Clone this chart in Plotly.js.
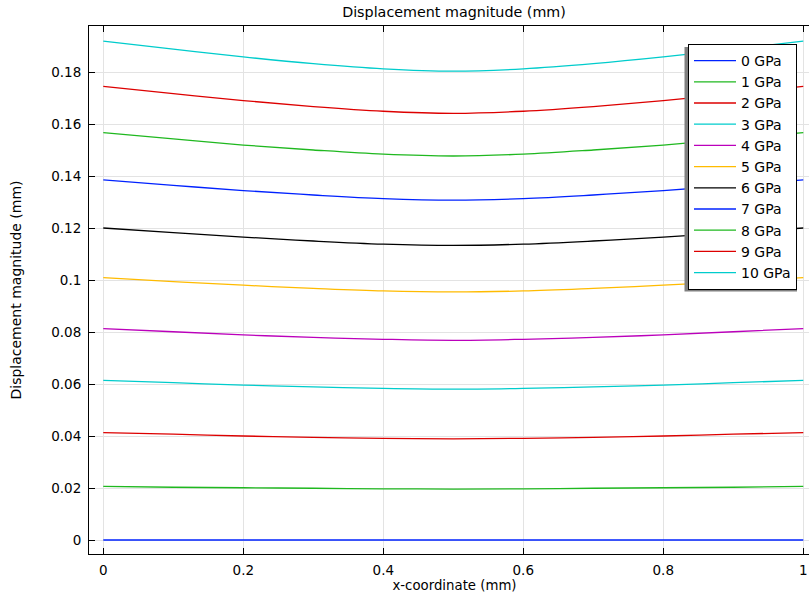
<!DOCTYPE html>
<html>
<head>
<meta charset="utf-8">
<script src="https://cdn.plot.ly/plotly-3.0.1.min.js"></script>
<style>
html,body{margin:0;padding:0;overflow:hidden;background:#fff;}
#chart{width:830px;height:596px;}
</style>
</head>
<body>
<div id="chart"></div>
<script>
// x-coordinate (mm)
var xCoord = [0, 0.1, 0.2, 0.3, 0.4, 0.5, 0.6, 0.7, 0.8, 0.9, 1.0];

// Series labels
var seriesNames = ["0 GPa","1 GPa","2 GPa","3 GPa","4 GPa","5 GPa","6 GPa","7 GPa","8 GPa","9 GPa","10 GPa"];

// Displacement magnitude (mm) per series
var u0  = [0, 0, 0, 0, 0, 0, 0, 0, 0, 0, 0];
var u1  = [0.0206, 0.0203, 0.0201, 0.0199, 0.0197, 0.0196, 0.0197, 0.0199, 0.0201, 0.0203, 0.0206];
var u2  = [0.0413, 0.0407, 0.0400, 0.0395, 0.0391, 0.0389, 0.0391, 0.0395, 0.0400, 0.0407, 0.0413];
var u3  = [0.0614, 0.0605, 0.0596, 0.0589, 0.0583, 0.0580, 0.0583, 0.0589, 0.0596, 0.0605, 0.0614];
var u4  = [0.0813, 0.0801, 0.0789, 0.0779, 0.0772, 0.0768, 0.0772, 0.0779, 0.0789, 0.0801, 0.0813];
var u5  = [0.1009, 0.0994, 0.0980, 0.0968, 0.0958, 0.0954, 0.0958, 0.0968, 0.0980, 0.0994, 0.1009];
var u6  = [0.1200, 0.1182, 0.1165, 0.1150, 0.1138, 0.1133, 0.1138, 0.1150, 0.1165, 0.1182, 0.1200];
var u7  = [0.1385, 0.1364, 0.1344, 0.1327, 0.1313, 0.1307, 0.1313, 0.1327, 0.1344, 0.1364, 0.1385];
var u8  = [0.1567, 0.1543, 0.1519, 0.1500, 0.1484, 0.1477, 0.1484, 0.1500, 0.1519, 0.1543, 0.1567];
var u9  = [0.1745, 0.1717, 0.1690, 0.1667, 0.1649, 0.1641, 0.1649, 0.1667, 0.1690, 0.1717, 0.1745];
var u10 = [0.1919, 0.1888, 0.1858, 0.1832, 0.1812, 0.1803, 0.1812, 0.1832, 0.1858, 0.1888, 0.1919];

var seriesValues = [u0,u1,u2,u3,u4,u5,u6,u7,u8,u9,u10];
var seriesColors = ["#0022ff","#1fb81f","#dd0000","#00cccc","#bb00bb","#ffbb00","#000000","#0022ff","#1fb81f","#dd0000","#00cccc"];

var traces = seriesValues.map(function(vals, i){
  return {
    x: xCoord, y: vals, type: 'scatter', mode: 'lines',
    name: seriesNames[i],
    line: {color: seriesColors[i], width: 1.3, shape: 'spline', smoothing: 1}
  };
});

var W = 830, H = 596, L = 89, R = 10, T = 26, B = 42;
var pw = W - L - R, ph = H - T - B;
function px(xp){ return (xp - L) / pw; }
function py(yp){ return (H - B - yp) / ph; }

var fam = 'DejaVu Sans, sans-serif';
var tickFont = {family: fam, size: 13.5, color: '#000'};

var layout = {
  width: W, height: H,
  margin: {l: L, r: R, t: T, b: B, pad: 0},
  paper_bgcolor: '#fff', plot_bgcolor: '#fff',
  font: {family: fam, size: 13, color: '#000'},
  showlegend: true,
  title: {text: 'Displacement magnitude (mm)', font: {family: fam, size: 14.3, color: '#000'},
          x: px(454), xref: 'paper', xanchor: 'center', y: 1 - 12/H, yref: 'container', yanchor: 'middle'},
  xaxis: {
    range: [-0.0204, 1.0239], tick0: 0, dtick: 0.2,
    showline: true, linecolor: '#000', linewidth: 1, mirror: 'ticks',
    ticks: 'inside', ticklen: 6, tickcolor: '#000', tickwidth: 1,
    showgrid: true, gridcolor: '#e3e3e3', gridwidth: 1, zeroline: false,
    tickfont: tickFont, ticklabelstandoff: 4,
    title: {text: 'x-coordinate (mm)', font: {family: fam, size: 13.3, color: '#000'}, standoff: 2}
  },
  yaxis: {
    range: [-0.00538, 0.19769], tick0: 0, dtick: 0.02,
    showline: true, linecolor: '#000', linewidth: 1, mirror: 'ticks',
    ticks: 'inside', ticklen: 6, tickcolor: '#000', tickwidth: 1,
    showgrid: true, gridcolor: '#e3e3e3', gridwidth: 1, zeroline: false,
    tickfont: tickFont, ticklabelstandoff: 4,
    title: {text: 'Displacement magnitude (mm)', font: {family: fam, size: 14, color: '#000'}, standoff: 26}
  },
  legend: {
    x: px(688), y: py(44), xanchor: 'left', yanchor: 'top',
    bgcolor: '#fff', bordercolor: '#000', borderwidth: 1,
    font: {family: fam, size: 14, color: '#000'}, tracegroupgap: 0,
    itemwidth: 42
  },
  shapes: [{
    type: 'rect', xref: 'paper', yref: 'paper', layer: 'above',
    x0: px(684.5), x1: px(797), y0: py(291.5), y1: py(47),
    fillcolor: '#808080', line: {width: 0}
  }]
};

Plotly.newPlot('chart', traces, layout, {displayModeBar: false, staticPlot: true});
</script>
</body>
</html>
